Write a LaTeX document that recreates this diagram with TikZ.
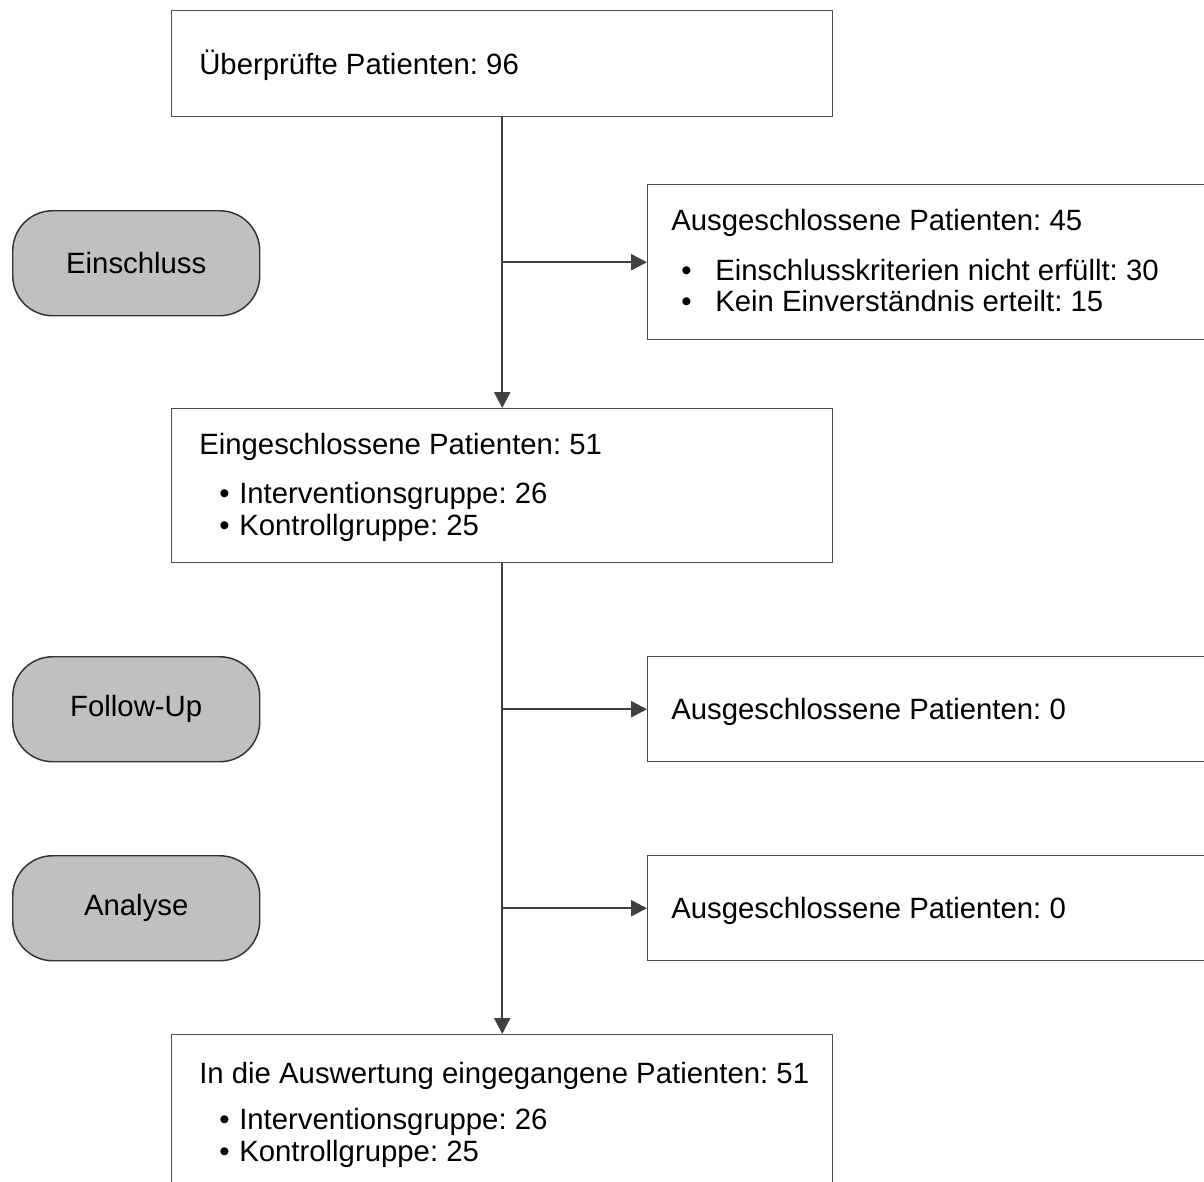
\documentclass[tikz,border=0pt]{standalone}
\usepackage{fontspec}
\setmainfont{Liberation Sans}
\usetikzlibrary{arrows.meta}
\definecolor{boxgray}{HTML}{4D4D4D}
\definecolor{linegray}{HTML}{404040}
\definecolor{pillfill}{HTML}{C0C0C0}
\definecolor{pillline}{HTML}{333333}
\frenchspacing
\begin{document}
\begin{tikzpicture}[x=0.75pt,y=-0.75pt,
  every node/.style={font=\fontsize{22}{26}\selectfont, text=black},
  box/.style={draw=boxgray, line width=1.1pt, fill=white, inner sep=0pt, anchor=north west},
  phase/.style={draw=pillline, fill=pillfill, line width=1.1pt, rounded corners=30pt,
    minimum width=247*0.75pt, minimum height=105*0.75pt, anchor=north west, inner sep=0pt},
  lbl/.style={anchor=base west, inner sep=0pt},
  flow/.style={draw=linegray, line width=1.8pt, -{Triangle[length=12pt,width=12pt]}},
]
\clip (0,0) rectangle (1204,1182);
\fill[white] (0,0) rectangle (1204,1182);

% phase labels on the left
\node[phase] (pIncl) at (12,210) {Einschluss};
\node[phase] (pFollow) at (12,656) {Follow-Up};
\node[phase] (pAnalyse) at (12,855) {Analyse};

% main column
\node[box, minimum width=661*0.75pt, minimum height=106*0.75pt] (screen) at (171,10) {};
\node[lbl] (screenT) at (199,74) {Überprüfte Patienten: 96};

\node[box, minimum width=661*0.75pt, minimum height=154*0.75pt] (incl) at (171,408) {};
\node[lbl] (inclT) at (199,454) {Eingeschlossene Patienten: 51};
\node[lbl] (inclB1) at (219,503) {•};
\node[lbl] (inclI1) at (239,503) {Interventionsgruppe: 26};
\node[lbl] (inclB2) at (219,535) {•};
\node[lbl] (inclI2) at (239,535) {Kontrollgruppe: 25};

\node[box, minimum width=661*0.75pt, minimum height=160*0.75pt] (final) at (171,1034) {};
\node[lbl] (finalT) at (199,1083) {In die Auswertung eingegangene Patienten: 51};
\node[lbl] (finalB1) at (219,1129) {•};
\node[lbl] (finalI1) at (239,1129) {Interventionsgruppe: 26};
\node[lbl] (finalB2) at (219,1161) {•};
\node[lbl] (finalI2) at (239,1161) {Kontrollgruppe: 25};

% exclusion boxes on the right
\node[box, minimum width=563*0.75pt, minimum height=155*0.75pt] (ex1) at (647,184) {};
\node[lbl] (ex1T) at (671,230) {Ausgeschlossene Patienten: 45};
\node[lbl] (ex1B1) at (681,280) {•};
\node[lbl] (ex1I1) at (715,280) {Einschlusskriterien nicht erfüllt: 30};
\node[lbl] (ex1B2) at (681,311) {•};
\node[lbl] (ex1I2) at (715,311) {Kein Einverständnis erteilt: 15};

\node[box, minimum width=563*0.75pt, minimum height=105*0.75pt] (ex2) at (647,656) {};
\node[lbl] (ex2T) at (671,719) {Ausgeschlossene Patienten: 0};

\node[box, minimum width=563*0.75pt, minimum height=105*0.75pt] (ex3) at (647,855) {};
\node[lbl] (ex3T) at (671,918) {Ausgeschlossene Patienten: 0};

% connectors
\draw[flow] (screen.south) -- (incl.north);
\draw[flow] (incl.south) -- (final.north);
\coordinate (br1) at (screen.south |- ex1.west);
\coordinate (br2) at (incl.south |- ex2.west);
\coordinate (br3) at (incl.south |- ex3.west);
\draw[flow] (br1) -- (ex1.west);
\draw[flow] (br2) -- (ex2.west);
\draw[flow] (br3) -- (ex3.west);
\end{tikzpicture}
\end{document}
